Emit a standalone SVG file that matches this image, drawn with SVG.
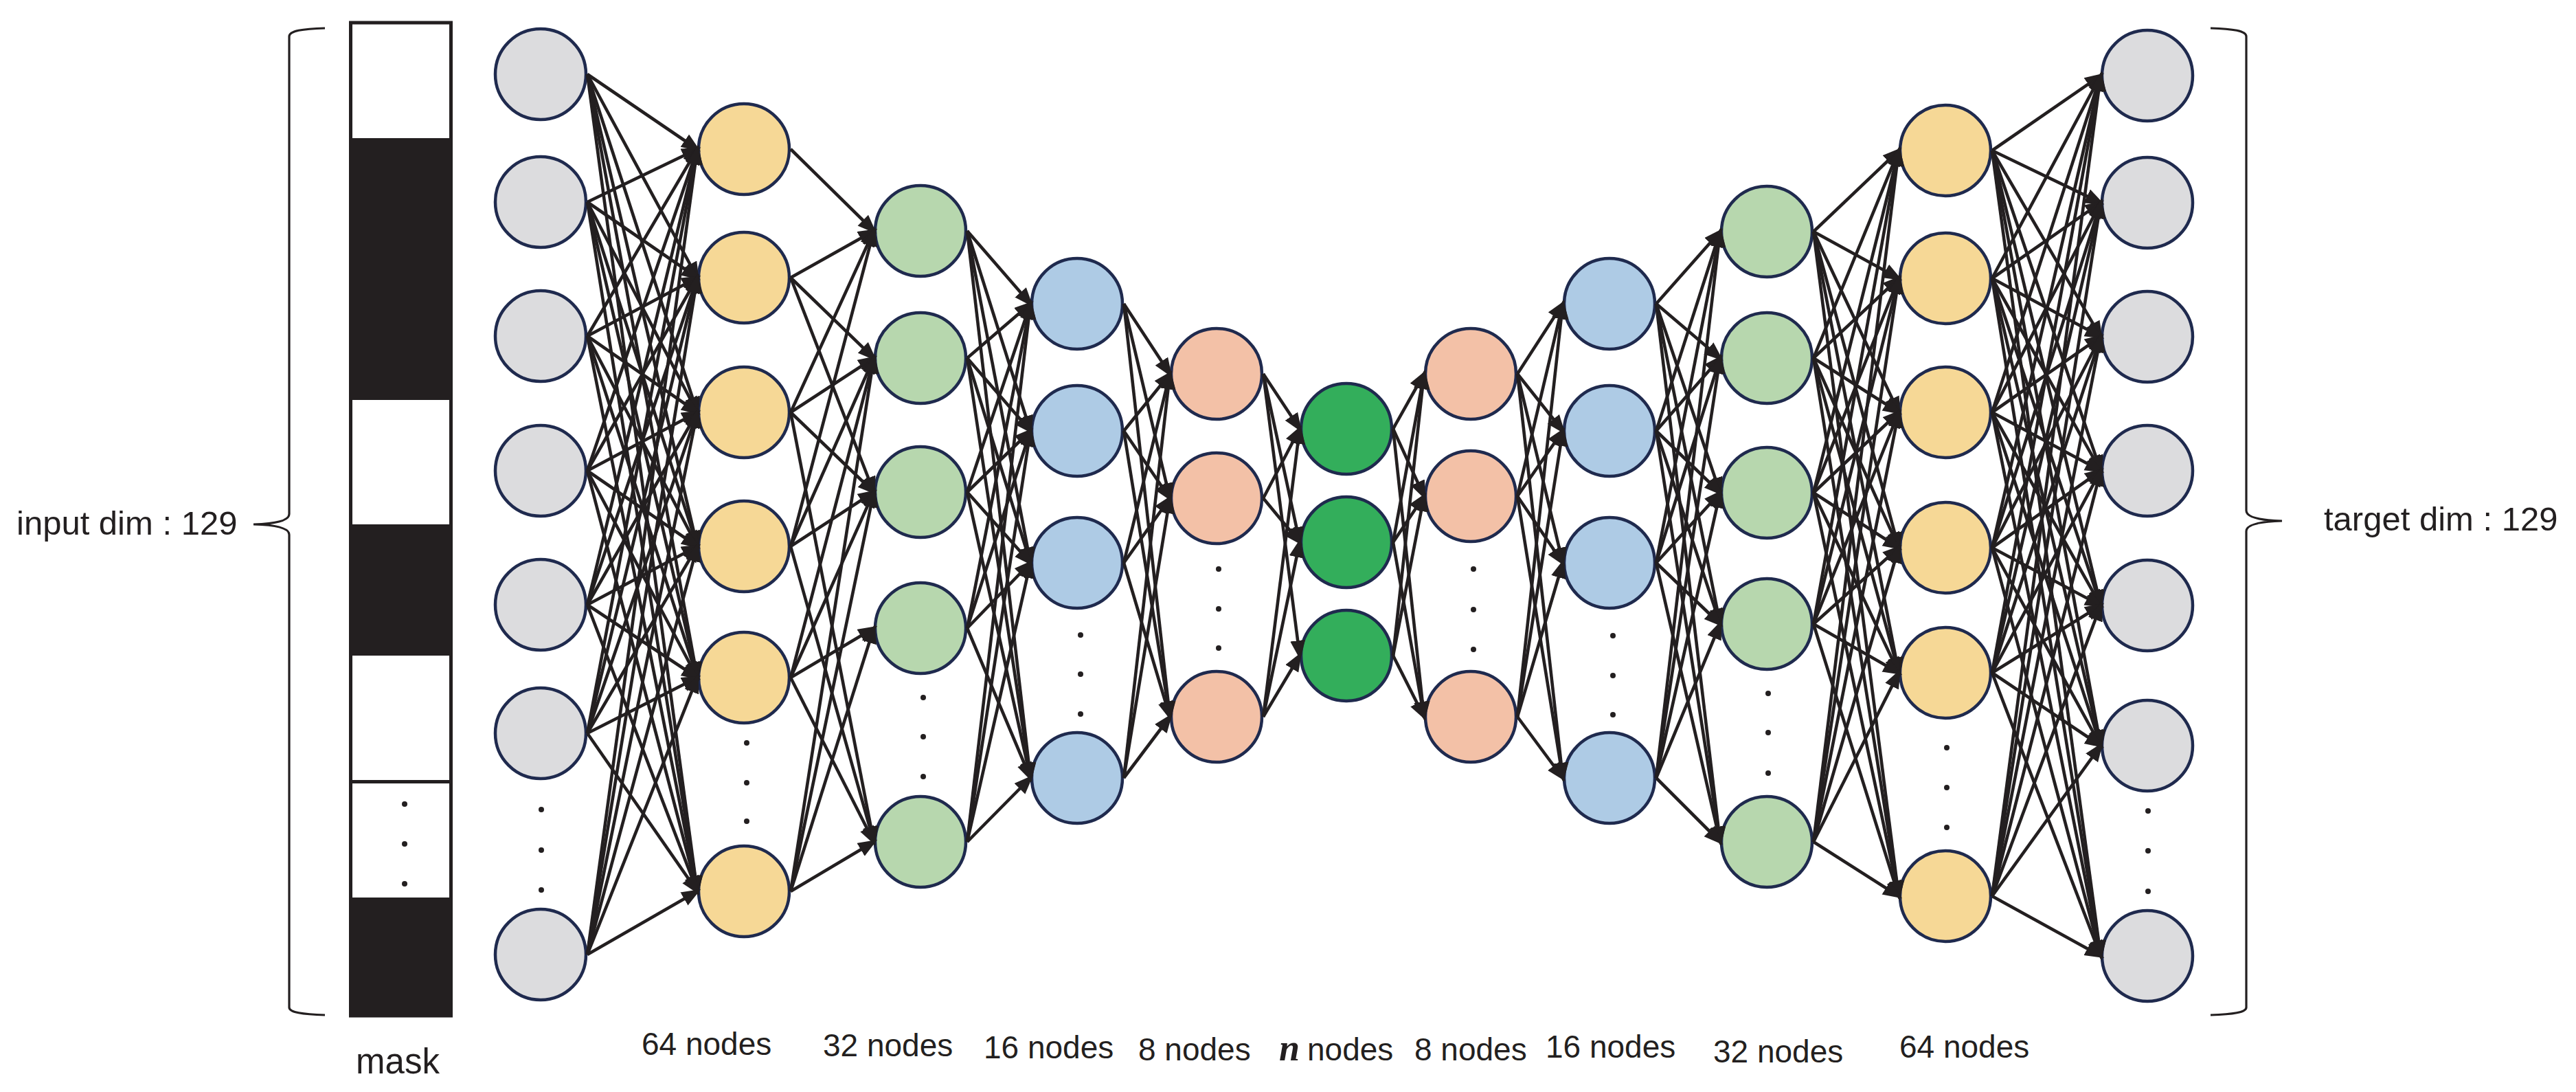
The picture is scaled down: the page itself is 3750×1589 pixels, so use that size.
<svg xmlns="http://www.w3.org/2000/svg" width="3750" height="1589" viewBox="0 0 3750 1589">
<style>
.n{stroke:#1f2a4e;stroke-width:4.5}
.gray{fill:#dcdcde}.yel{fill:#f6d896}.lg{fill:#b7d7ae}.bl{fill:#aecbe5}.sal{fill:#f3c1a7}.dg{fill:#33ae5b}
.e{fill:none;stroke:#231f20;stroke-width:4.6;marker-end:url(#ah)}
.dot{fill:#231f20}
.t{font-family:"Liberation Sans",Arial,sans-serif;fill:#231f20}
.br{fill:none;stroke:#231f20;stroke-width:3.2}
</style>
<defs>
<marker id="ah" markerUnits="userSpaceOnUse" markerWidth="32" markerHeight="24" refX="22" refY="11" orient="auto">
<path d="M0,0 L28,11 L0,22 z" fill="#231f20"/>
</marker>
</defs>
<rect width="3750" height="1589" fill="#fff"/>
<g id="brace-left"><path class="br" d="M473,41 C440,42 421,45 421,53 L421,748 C421,757 405,762 369,763 C405,764 421,769 421,778 L421,1466 C421,1473 440,1476 473,1477"/></g>
<g id="brace-right"><path class="br" d="M3218,41 C3251,42 3270,45 3270,53 L3270,743 C3270,752 3286,757 3322,758 C3286,759 3270,764 3270,773 L3270,1466 C3270,1473 3251,1476 3218,1477"/></g>
<text class="t" x="24" y="778" font-size="49">input dim : 129</text>
<text class="t" x="3383" y="772" font-size="49">target dim : 129</text>
<g id="mask">
<rect x="510.5" y="33" width="146" height="1445" fill="#fff" stroke="#231f20" stroke-width="5"/>
<rect x="508" y="201" width="151" height="381" fill="#231f20"/>
<rect x="508" y="763" width="151" height="191" fill="#231f20"/>
<rect x="508" y="1135" width="151" height="5" fill="#231f20"/>
<rect x="508" y="1306" width="151" height="174" fill="#231f20"/>
<circle class="dot" cx="589" cy="1170" r="4"/><circle class="dot" cx="589" cy="1228" r="4"/><circle class="dot" cx="589" cy="1286" r="4"/>
<text class="t" x="579" y="1562" font-size="51" text-anchor="middle">mask</text>
</g>
<g id="nodes">
<g id="in1"><circle class="n gray" cx="787" cy="108" r="66"/></g>
<g id="in2"><circle class="n gray" cx="787" cy="294" r="66"/></g>
<g id="in3"><circle class="n gray" cx="787" cy="489" r="66"/></g>
<g id="in4"><circle class="n gray" cx="787" cy="685" r="66"/></g>
<g id="in5"><circle class="n gray" cx="787" cy="880" r="66"/></g>
<g id="in6"><circle class="n gray" cx="787" cy="1067" r="66"/></g>
<g id="in7"><circle class="n gray" cx="787" cy="1389" r="66"/></g>
<g id="y1"><circle class="n yel" cx="1083" cy="217" r="66"/></g>
<g id="y2"><circle class="n yel" cx="1083" cy="404" r="66"/></g>
<g id="y3"><circle class="n yel" cx="1083" cy="600" r="66"/></g>
<g id="y4"><circle class="n yel" cx="1083" cy="795" r="66"/></g>
<g id="y5"><circle class="n yel" cx="1083" cy="986" r="66"/></g>
<g id="y6"><circle class="n yel" cx="1083" cy="1297" r="66"/></g>
<g id="g1"><circle class="n lg" cx="1340" cy="336" r="66"/></g>
<g id="g2"><circle class="n lg" cx="1340" cy="521" r="66"/></g>
<g id="g3"><circle class="n lg" cx="1340" cy="716" r="66"/></g>
<g id="g4"><circle class="n lg" cx="1340" cy="914" r="66"/></g>
<g id="g5"><circle class="n lg" cx="1340" cy="1225" r="66"/></g>
<g id="b1"><circle class="n bl" cx="1568" cy="442" r="66"/></g>
<g id="b2"><circle class="n bl" cx="1568" cy="627" r="66"/></g>
<g id="b3"><circle class="n bl" cx="1568" cy="819" r="66"/></g>
<g id="b4"><circle class="n bl" cx="1568" cy="1132" r="66"/></g>
<g id="s1"><circle class="n sal" cx="1771" cy="544" r="66"/></g>
<g id="s2"><circle class="n sal" cx="1771" cy="725" r="66"/></g>
<g id="s3"><circle class="n sal" cx="1771" cy="1043" r="66"/></g>
<g id="z1"><circle class="n dg" cx="1960" cy="624" r="66"/></g>
<g id="z2"><circle class="n dg" cx="1960" cy="789" r="66"/></g>
<g id="z3"><circle class="n dg" cx="1960" cy="954" r="66"/></g>
<g id="s4"><circle class="n sal" cx="2141" cy="544" r="66"/></g>
<g id="s5"><circle class="n sal" cx="2141" cy="722" r="66"/></g>
<g id="s6"><circle class="n sal" cx="2141" cy="1043" r="66"/></g>
<g id="b5"><circle class="n bl" cx="2343" cy="442" r="66"/></g>
<g id="b6"><circle class="n bl" cx="2343" cy="627" r="66"/></g>
<g id="b7"><circle class="n bl" cx="2343" cy="819" r="66"/></g>
<g id="b8"><circle class="n bl" cx="2343" cy="1132" r="66"/></g>
<g id="g6"><circle class="n lg" cx="2572" cy="337" r="66"/></g>
<g id="g7"><circle class="n lg" cx="2572" cy="521" r="66"/></g>
<g id="g8"><circle class="n lg" cx="2572" cy="717" r="66"/></g>
<g id="g9"><circle class="n lg" cx="2572" cy="908" r="66"/></g>
<g id="g10"><circle class="n lg" cx="2572" cy="1225" r="66"/></g>
<g id="y7"><circle class="n yel" cx="2832" cy="219" r="66"/></g>
<g id="y8"><circle class="n yel" cx="2832" cy="405" r="66"/></g>
<g id="y9"><circle class="n yel" cx="2832" cy="600" r="66"/></g>
<g id="y10"><circle class="n yel" cx="2832" cy="797" r="66"/></g>
<g id="y11"><circle class="n yel" cx="2832" cy="979" r="66"/></g>
<g id="y12"><circle class="n yel" cx="2832" cy="1304" r="66"/></g>
<g id="out1"><circle class="n gray" cx="3126" cy="110" r="66"/></g>
<g id="out2"><circle class="n gray" cx="3126" cy="295" r="66"/></g>
<g id="out3"><circle class="n gray" cx="3126" cy="490" r="66"/></g>
<g id="out4"><circle class="n gray" cx="3126" cy="685" r="66"/></g>
<g id="out5"><circle class="n gray" cx="3126" cy="881" r="66"/></g>
<g id="out6"><circle class="n gray" cx="3126" cy="1085" r="66"/></g>
<g id="out7"><circle class="n gray" cx="3126" cy="1391" r="66"/></g>
</g>
<g id="dots">
<circle class="dot" cx="788" cy="1178" r="4"/><circle class="dot" cx="788" cy="1237" r="4"/><circle class="dot" cx="788" cy="1295" r="4"/>
<circle class="dot" cx="1087" cy="1081" r="4"/><circle class="dot" cx="1087" cy="1139" r="4"/><circle class="dot" cx="1087" cy="1195" r="4"/>
<circle class="dot" cx="1344" cy="1015" r="4"/><circle class="dot" cx="1344" cy="1072" r="4"/><circle class="dot" cx="1344" cy="1130" r="4"/>
<circle class="dot" cx="1573" cy="924" r="4"/><circle class="dot" cx="1573" cy="981" r="4"/><circle class="dot" cx="1573" cy="1039" r="4"/>
<circle class="dot" cx="1774" cy="828" r="4"/><circle class="dot" cx="1774" cy="886" r="4"/><circle class="dot" cx="1774" cy="943" r="4"/>
<circle class="dot" cx="2145" cy="828" r="4"/><circle class="dot" cx="2145" cy="887" r="4"/><circle class="dot" cx="2145" cy="945" r="4"/>
<circle class="dot" cx="2348" cy="925" r="4"/><circle class="dot" cx="2348" cy="983" r="4"/><circle class="dot" cx="2348" cy="1040" r="4"/>
<circle class="dot" cx="2574" cy="1009" r="4"/><circle class="dot" cx="2574" cy="1066" r="4"/><circle class="dot" cx="2574" cy="1125" r="4"/>
<circle class="dot" cx="2834" cy="1088" r="4"/><circle class="dot" cx="2834" cy="1146" r="4"/><circle class="dot" cx="2834" cy="1204" r="4"/>
<circle class="dot" cx="3127" cy="1180" r="4"/><circle class="dot" cx="3127" cy="1238" r="4"/><circle class="dot" cx="3127" cy="1297" r="4"/>
</g>
<g id="connectors">
<path class="e" d="M855 108L1015 217"/><path class="e" d="M855 108L1015 404"/><path class="e" d="M855 108L1015 600"/><path class="e" d="M855 108L1015 795"/><path class="e" d="M855 108L1015 986"/><path class="e" d="M855 108L1015 1297"/>
<path class="e" d="M855 294L1015 217"/><path class="e" d="M855 294L1015 404"/><path class="e" d="M855 294L1015 600"/><path class="e" d="M855 294L1015 795"/><path class="e" d="M855 294L1015 986"/><path class="e" d="M855 294L1015 1297"/>
<path class="e" d="M855 489L1015 217"/><path class="e" d="M855 489L1015 404"/><path class="e" d="M855 489L1015 600"/><path class="e" d="M855 489L1015 795"/><path class="e" d="M855 489L1015 986"/><path class="e" d="M855 489L1015 1297"/>
<path class="e" d="M855 685L1015 217"/><path class="e" d="M855 685L1015 404"/><path class="e" d="M855 685L1015 600"/><path class="e" d="M855 685L1015 795"/><path class="e" d="M855 685L1015 986"/><path class="e" d="M855 685L1015 1297"/>
<path class="e" d="M855 880L1015 217"/><path class="e" d="M855 880L1015 404"/><path class="e" d="M855 880L1015 600"/><path class="e" d="M855 880L1015 795"/><path class="e" d="M855 880L1015 986"/><path class="e" d="M855 880L1015 1297"/>
<path class="e" d="M855 1067L1015 217"/><path class="e" d="M855 1067L1015 404"/><path class="e" d="M855 1067L1015 600"/><path class="e" d="M855 1067L1015 795"/><path class="e" d="M855 1067L1015 986"/><path class="e" d="M855 1067L1015 1297"/>
<path class="e" d="M855 1389L1015 217"/><path class="e" d="M855 1389L1015 404"/><path class="e" d="M855 1389L1015 600"/><path class="e" d="M855 1389L1015 795"/><path class="e" d="M855 1389L1015 986"/><path class="e" d="M855 1389L1015 1297"/>
<path class="e" d="M1151 217L1272 336"/>
<path class="e" d="M1151 404L1272 336"/><path class="e" d="M1151 404L1272 521"/><path class="e" d="M1151 404L1272 716"/>
<path class="e" d="M1151 600L1272 336"/><path class="e" d="M1151 600L1272 521"/><path class="e" d="M1151 600L1272 716"/><path class="e" d="M1151 600L1272 1225"/>
<path class="e" d="M1151 795L1272 336"/><path class="e" d="M1151 795L1272 521"/><path class="e" d="M1151 795L1272 716"/><path class="e" d="M1151 795L1272 1225"/>
<path class="e" d="M1151 986L1272 521"/><path class="e" d="M1151 986L1272 716"/><path class="e" d="M1151 986L1272 914"/><path class="e" d="M1151 986L1272 1225"/>
<path class="e" d="M1151 1297L1272 521"/><path class="e" d="M1151 1297L1272 716"/><path class="e" d="M1151 1297L1272 914"/><path class="e" d="M1151 1297L1272 1225"/>
<path class="e" d="M1408 336L1500 442"/><path class="e" d="M1408 336L1500 627"/><path class="e" d="M1408 336L1500 819"/><path class="e" d="M1408 336L1500 1132"/>
<path class="e" d="M1408 521L1500 442"/><path class="e" d="M1408 521L1500 627"/><path class="e" d="M1408 521L1500 819"/><path class="e" d="M1408 521L1500 1132"/>
<path class="e" d="M1408 716L1500 442"/><path class="e" d="M1408 716L1500 627"/><path class="e" d="M1408 716L1500 819"/><path class="e" d="M1408 716L1500 1132"/>
<path class="e" d="M1408 914L1500 442"/><path class="e" d="M1408 914L1500 627"/><path class="e" d="M1408 914L1500 819"/><path class="e" d="M1408 914L1500 1132"/>
<path class="e" d="M1408 1225L1500 442"/><path class="e" d="M1408 1225L1500 627"/><path class="e" d="M1408 1225L1500 819"/><path class="e" d="M1408 1225L1500 1132"/>
<path class="e" d="M1636 442L1703 544"/><path class="e" d="M1636 442L1703 725"/><path class="e" d="M1636 442L1703 1043"/>
<path class="e" d="M1636 627L1703 544"/><path class="e" d="M1636 627L1703 725"/><path class="e" d="M1636 627L1703 1043"/>
<path class="e" d="M1636 819L1703 544"/><path class="e" d="M1636 819L1703 725"/><path class="e" d="M1636 819L1703 1043"/>
<path class="e" d="M1636 1132L1703 544"/><path class="e" d="M1636 1132L1703 725"/><path class="e" d="M1636 1132L1703 1043"/>
<path class="e" d="M1839 544L1892 624"/><path class="e" d="M1839 544L1892 789"/><path class="e" d="M1839 544L1892 954"/>
<path class="e" d="M1839 725L1892 624"/><path class="e" d="M1839 725L1892 789"/>
<path class="e" d="M1839 1043L1892 624"/><path class="e" d="M1839 1043L1892 789"/><path class="e" d="M1839 1043L1892 954"/>
<path class="e" d="M2028 624L2073 544"/><path class="e" d="M2028 624L2073 722"/><path class="e" d="M2028 624L2073 1043"/>
<path class="e" d="M2028 789L2073 544"/><path class="e" d="M2028 789L2073 722"/><path class="e" d="M2028 789L2073 1043"/>
<path class="e" d="M2028 954L2073 544"/><path class="e" d="M2028 954L2073 722"/><path class="e" d="M2028 954L2073 1043"/>
<path class="e" d="M2209 544L2275 442"/><path class="e" d="M2209 544L2275 627"/><path class="e" d="M2209 544L2275 819"/><path class="e" d="M2209 544L2275 1132"/>
<path class="e" d="M2209 722L2275 442"/><path class="e" d="M2209 722L2275 627"/><path class="e" d="M2209 722L2275 819"/><path class="e" d="M2209 722L2275 1132"/>
<path class="e" d="M2209 1043L2275 442"/><path class="e" d="M2209 1043L2275 627"/><path class="e" d="M2209 1043L2275 819"/><path class="e" d="M2209 1043L2275 1132"/>
<path class="e" d="M2411 442L2504 337"/><path class="e" d="M2411 442L2504 521"/><path class="e" d="M2411 442L2504 717"/><path class="e" d="M2411 442L2504 908"/><path class="e" d="M2411 442L2504 1225"/>
<path class="e" d="M2411 627L2504 337"/><path class="e" d="M2411 627L2504 521"/><path class="e" d="M2411 627L2504 717"/><path class="e" d="M2411 627L2504 908"/><path class="e" d="M2411 627L2504 1225"/>
<path class="e" d="M2411 819L2504 337"/><path class="e" d="M2411 819L2504 521"/><path class="e" d="M2411 819L2504 717"/><path class="e" d="M2411 819L2504 908"/><path class="e" d="M2411 819L2504 1225"/>
<path class="e" d="M2411 1132L2504 337"/><path class="e" d="M2411 1132L2504 521"/><path class="e" d="M2411 1132L2504 717"/><path class="e" d="M2411 1132L2504 908"/><path class="e" d="M2411 1132L2504 1225"/>
<path class="e" d="M2640 337L2764 219"/><path class="e" d="M2640 337L2764 405"/><path class="e" d="M2640 337L2764 600"/><path class="e" d="M2640 337L2764 797"/><path class="e" d="M2640 337L2764 979"/><path class="e" d="M2640 337L2764 1304"/>
<path class="e" d="M2640 521L2764 219"/><path class="e" d="M2640 521L2764 405"/><path class="e" d="M2640 521L2764 600"/><path class="e" d="M2640 521L2764 797"/><path class="e" d="M2640 521L2764 979"/><path class="e" d="M2640 521L2764 1304"/>
<path class="e" d="M2640 717L2764 219"/><path class="e" d="M2640 717L2764 405"/><path class="e" d="M2640 717L2764 600"/><path class="e" d="M2640 717L2764 797"/><path class="e" d="M2640 717L2764 979"/><path class="e" d="M2640 717L2764 1304"/>
<path class="e" d="M2640 908L2764 219"/><path class="e" d="M2640 908L2764 405"/><path class="e" d="M2640 908L2764 600"/><path class="e" d="M2640 908L2764 797"/><path class="e" d="M2640 908L2764 979"/><path class="e" d="M2640 908L2764 1304"/>
<path class="e" d="M2640 1225L2764 219"/><path class="e" d="M2640 1225L2764 405"/><path class="e" d="M2640 1225L2764 600"/><path class="e" d="M2640 1225L2764 797"/><path class="e" d="M2640 1225L2764 979"/><path class="e" d="M2640 1225L2764 1304"/>
<path class="e" d="M2900 219L3058 110"/><path class="e" d="M2900 219L3058 295"/><path class="e" d="M2900 219L3058 490"/><path class="e" d="M2900 219L3058 685"/><path class="e" d="M2900 219L3058 881"/><path class="e" d="M2900 219L3058 1085"/><path class="e" d="M2900 219L3058 1391"/>
<path class="e" d="M2900 405L3058 110"/><path class="e" d="M2900 405L3058 295"/><path class="e" d="M2900 405L3058 490"/><path class="e" d="M2900 405L3058 685"/><path class="e" d="M2900 405L3058 881"/><path class="e" d="M2900 405L3058 1085"/><path class="e" d="M2900 405L3058 1391"/>
<path class="e" d="M2900 600L3058 110"/><path class="e" d="M2900 600L3058 295"/><path class="e" d="M2900 600L3058 490"/><path class="e" d="M2900 600L3058 685"/><path class="e" d="M2900 600L3058 881"/><path class="e" d="M2900 600L3058 1085"/><path class="e" d="M2900 600L3058 1391"/>
<path class="e" d="M2900 797L3058 110"/><path class="e" d="M2900 797L3058 295"/><path class="e" d="M2900 797L3058 490"/><path class="e" d="M2900 797L3058 685"/><path class="e" d="M2900 797L3058 881"/><path class="e" d="M2900 797L3058 1085"/><path class="e" d="M2900 797L3058 1391"/>
<path class="e" d="M2900 979L3058 110"/><path class="e" d="M2900 979L3058 295"/><path class="e" d="M2900 979L3058 490"/><path class="e" d="M2900 979L3058 685"/><path class="e" d="M2900 979L3058 881"/><path class="e" d="M2900 979L3058 1085"/><path class="e" d="M2900 979L3058 1391"/>
<path class="e" d="M2900 1304L3058 110"/><path class="e" d="M2900 1304L3058 295"/><path class="e" d="M2900 1304L3058 490"/><path class="e" d="M2900 1304L3058 685"/><path class="e" d="M2900 1304L3058 881"/><path class="e" d="M2900 1304L3058 1085"/><path class="e" d="M2900 1304L3058 1391"/>
</g>
<g id="labels">
<text class="t" x="934" y="1535" font-size="46">64 nodes</text>
<text class="t" x="1198" y="1537" font-size="46">32 nodes</text>
<text class="t" x="1432" y="1540" font-size="46">16 nodes</text>
<text class="t" x="1657" y="1543" font-size="46">8 nodes</text>
<text class="t" y="1543" font-size="46"><tspan x="1862" font-family="Liberation Serif" font-style="italic" font-weight="bold" font-size="54">n</tspan><tspan x="1903">nodes</tspan></text>
<text class="t" x="2059" y="1543" font-size="46">8 nodes</text>
<text class="t" x="2250" y="1539" font-size="46">16 nodes</text>
<text class="t" x="2494" y="1546" font-size="46">32 nodes</text>
<text class="t" x="2765" y="1539" font-size="46">64 nodes</text>
</g>
</svg>
